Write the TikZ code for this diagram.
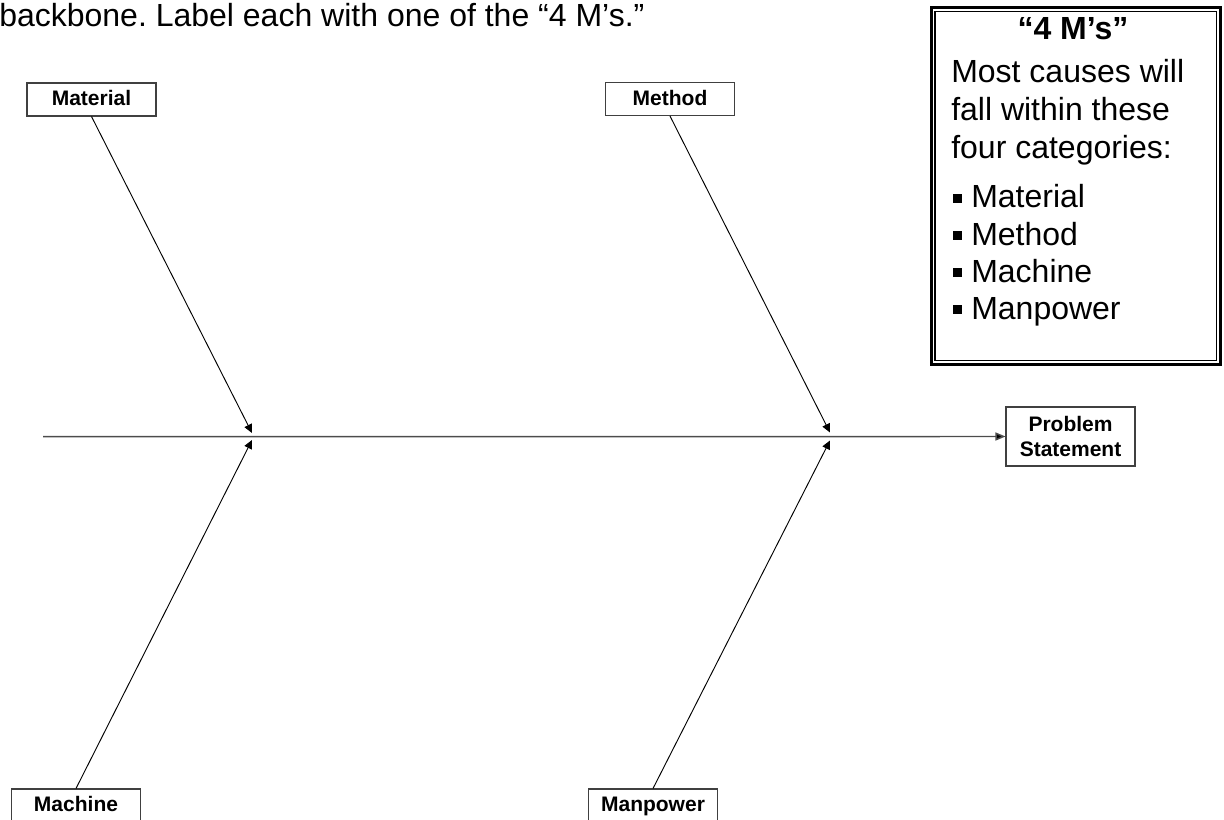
\documentclass[tikz,border=0pt]{standalone}
\usepackage{fontspec}
\setmainfont{Liberation Sans}
\usetikzlibrary{arrows.meta}
\frenchspacing
\begin{document}
\begin{tikzpicture}[x=0.75pt,y=-0.75pt,
  boxbase/.style={draw=black!75, line width=0.8pt, fill=white, minimum width=96.75pt,
    minimum height=24.75pt, inner sep=0pt, align=center,
    font=\bfseries\fontsize{15.75}{18.75}\selectfont},
  lbl/.style={boxbase, text height=12pt, text depth=2.7pt},
  bone/.style={line width=0.7pt, black, -{Triangle[length=6.5pt,width=6pt]}},
  spine/.style={line width=1.1pt, black!70, -{Triangle[length=7.5pt,width=6pt,fill=black]}},
  legtxt/.style={anchor=base west, inner sep=0pt, font=\fontsize{24}{28}\selectfont},
  bul/.style={fill=black},
]
\useasboundingbox (0,0) rectangle (1224,820);
\clip (0,0) rectangle (1224,820);

% title line
\node[anchor=base west, inner sep=0pt, font=\fontsize{24}{28}\selectfont] (title) at (-1,27)
  {backbone. Label each with one of the “4 M’s.”};

% category boxes
\node[lbl] (mat) at (91.5,99.5) {Material};
\node[lbl] (met) at (670,99) {Method};
\node[lbl] (mac) at (76,805.5) {Machine};
\node[lbl] (man) at (653,805.5) {Manpower};
\node[boxbase, minimum height=44.25pt] (prob) at (1070.5,436.5) {Problem\\Statement};

% junction points on the backbone
\coordinate (tail) at (43,436.7);
\coordinate (j1a) at (252,433);
\coordinate (j1b) at (252,440);
\coordinate (j2a) at (830,432.5);
\coordinate (j2b) at (830,440.5);

\draw[spine] (tail) -- (prob.west);
\draw[bone] (mat.south) -- (j1a);
\draw[bone] (mac.north) -- (j1b);
\draw[bone] (met.south) -- (j2a);
\draw[bone] (man.north) -- (j2b);

% legend box
\draw[line width=2pt] (931.3,7.3) rectangle (1220.7,364.7);
\draw[line width=0.8pt] (935,11.5) rectangle (1216.5,360.5);
\node[anchor=base, inner sep=0pt, font=\bfseries\fontsize{24}{28}\selectfont] (lhead) at (1073,40) {“4 M’s”};
\node[legtxt] (l1) at (951,83) {Most causes will};
\node[legtxt] (l2) at (951,121) {fall within these};
\node[legtxt] (l3) at (951,159) {four categories:};
\node[legtxt] (b1) at (971,208) {Material};
\node[legtxt] (b2) at (971,245) {Method};
\node[legtxt] (b3) at (971,282) {Machine};
\node[legtxt] (b4) at (971,319) {Manpower};
\foreach \y in {208,245,282,319} {
  \fill[bul] (953,\y-14) rectangle (962,\y-5);
}
\end{tikzpicture}
\end{document}
